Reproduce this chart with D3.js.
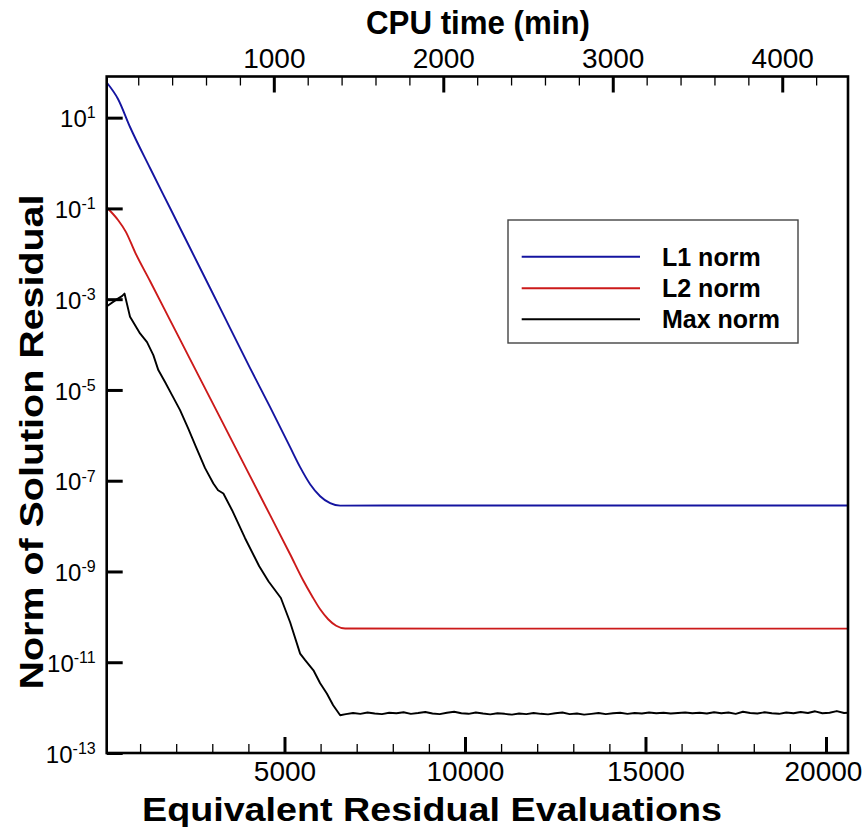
<!DOCTYPE html>
<html><head><meta charset="utf-8">
<script src="https://cdn.jsdelivr.net/npm/d3@7"></script>
<style>body{margin:0;background:#fff}</style>
</head><body><svg id="c" width="865" height="827"></svg>
<script>
const seriesNames = ["L1 norm", "L2 norm", "Max norm"];
const seriesColors = ["#1414a0", "#cc1a1a", "#000000"];

// [equivalent residual evaluations, norm]
const l1Norm = [
  [92, 57.2], [388, 25.8], [721, 6.22], [1275, 0.776], [1830, 0.102], [2384, 0.0134],
  [2939, 1.76e-3], [3493, 2.31e-4], [4047, 3.03e-5], [4602, 4.18e-6], [5156, 5.48e-7],
  [5433, 1.99e-7], [5710, 8.39e-8], [5988, 4.56e-8], [6265, 3.20e-8], [6542, 2.82e-8],
  [9000, 2.85e-8], [14000, 2.85e-8], [20610, 2.85e-8]
];
const l2Norm = [
  [92, 0.102], [388, 0.0555], [610, 0.0301], [859, 0.0109], [1275, 2.51e-3], [1830, 3.46e-4],
  [2384, 4.77e-5], [2939, 6.61e-6], [3493, 9.12e-7], [4047, 1.26e-7], [4602, 1.74e-8],
  [5156, 2.40e-9], [5516, 6.41e-10], [5766, 2.85e-10], [5988, 1.47e-10], [6210, 8.87e-11],
  [6432, 6.37e-11], [6682, 5.53e-11], [10000, 5.5e-11], [15000, 5.5e-11], [20610, 5.5e-11]
];
const maxNorm = [
  [92, 7.05e-4], [352, 9.9e-4], [499, 1.17e-3], [568, 1.33e-3], [721, 4.09e-4], [998, 1.76e-4],
  [1192, 1.13e-4], [1367, 5.86e-5], [1505, 2.74e-5], [1691, 1.49e-5], [1885, 7.69e-6], [2107, 3.59e-6],
  [2329, 1.44e-6], [2550, 5.48e-7], [2800, 1.89e-7], [3030, 8.69e-8], [3160, 6.18e-8], [3307, 5.24e-8],
  [3548, 2.24e-8], [3908, 5.41e-9], [4300, 1.3e-9], [4560, 6.0e-10], [4900, 2.6e-10], [5156, 7.6e-11],
  [5433, 1.55e-11], [5572, 1.11e-11], [5802, 6.65e-12], [5988, 3.44e-12], [6173, 2.04e-12], [6348, 1.13e-12],
  [6542, 6.78e-13],
  [6700, 7.2e-13], [6900, 7.6e-13], [7100, 7.3e-13], [7300, 7.8e-13], [7500, 7.4e-13], [7700, 7.2e-13],
  [7900, 7.7e-13], [8100, 7.5e-13], [8300, 7.9e-13], [8500, 7.3e-13], [8700, 7.6e-13], [8900, 8.0e-13],
  [9100, 7.4e-13], [9300, 7.2e-13], [9500, 7.7e-13], [9700, 8.1e-13], [9900, 7.5e-13], [10100, 7.3e-13],
  [10300, 7.8e-13], [10500, 7.4e-13], [10700, 7.1e-13], [10900, 7.5e-13], [11100, 7.3e-13], [11300, 7.0e-13],
  [11500, 7.4e-13], [11700, 7.2e-13], [11900, 7.6e-13], [12100, 7.3e-13], [12300, 7.1e-13], [12500, 7.5e-13],
  [12700, 7.8e-13], [12900, 7.2e-13], [13100, 7.4e-13], [13300, 7.0e-13], [13500, 7.3e-13], [13700, 7.6e-13],
  [13900, 7.2e-13], [14100, 7.5e-13], [14300, 7.7e-13], [14500, 7.3e-13], [14700, 7.6e-13], [14900, 7.4e-13],
  [15100, 7.8e-13], [15300, 7.5e-13], [15500, 7.7e-13], [15700, 7.4e-13], [15900, 7.6e-13], [16100, 7.8e-13],
  [16300, 7.5e-13], [16500, 7.7e-13], [16700, 7.4e-13], [16900, 7.9e-13], [17100, 7.5e-13], [17300, 7.8e-13],
  [17500, 7.3e-13], [17700, 8.1e-13], [17900, 7.6e-13], [18100, 7.4e-13], [18300, 7.9e-13], [18500, 7.5e-13],
  [18700, 7.3e-13], [18900, 7.8e-13], [19100, 7.5e-13], [19300, 8.0e-13], [19500, 7.6e-13], [19700, 8.3e-13],
  [19900, 7.5e-13], [20100, 7.7e-13], [20300, 8.4e-13], [20500, 7.6e-13], [20610, 7.7e-13]
];

const xMajorTicks = [5000, 10000, 15000, 20000];
const xMinorTicks = [1000, 2000, 3000, 4000, 6000, 7000, 8000, 9000, 11000, 12000, 13000, 14000, 16000, 17000, 18000, 19000];
const cpuMajorTicks = [1000, 2000, 3000, 4000];
const cpuMinorTicks = [200, 400, 600, 800, 1200, 1400, 1600, 1800, 2200, 2400, 2600, 2800, 3200, 3400, 3600, 3800, 4200];
const yTicks = [1e1, 1e-1, 1e-3, 1e-5, 1e-7, 1e-9, 1e-11, 1e-13];
const yTickExponents = ["1", "-1", "-3", "-5", "-7", "-9", "-11", "-13"];

const xTitle = "Equivalent Residual Evaluations";
const topTitle = "CPU time (min)";
const yTitle = "Norm of Solution Residual";

const L = 106.7, R = 848, T = 76.5, B = 753;
const FONT = "'Liberation Sans', Arial, Helvetica, sans-serif";

const svg = d3.select("#c");
const x = d3.scaleLinear().domain([75, 20610]).range([L, R]);
const xc = d3.scaleLinear().domain([14, 4388]).range([L, R]);
const y = d3.scaleLog().domain([1e-13, 80.7]).range([B, T]);

svg.append("defs").append("clipPath").attr("id", "clip")
  .append("rect").attr("x", L).attr("y", T).attr("width", R - L).attr("height", B - T);

const smooth = d3.line().curve(d3.curveMonotoneX).x(d => x(d[0])).y(d => y(d[1]));
const plain = d3.line().x(d => x(d[0])).y(d => y(d[1]));
const plot = svg.append("g").attr("clip-path", "url(#clip)");
[l1Norm, l2Norm, maxNorm].forEach((s, i) => {
  plot.append("path").datum(s).attr("d", i < 2 ? smooth : plain).attr("fill", "none")
    .attr("stroke", seriesColors[i]).attr("stroke-width", 1.9).attr("stroke-linejoin", "round");
});

function styleAxis(g, w, fs) {
  g.select(".domain").remove();
  g.selectAll(".tick line").attr("stroke", "#000").attr("stroke-width", w);
  g.selectAll("text").attr("font-family", FONT).attr("font-size", fs).attr("fill", "#000");
}

// bottom
svg.append("g").attr("transform", `translate(0,${B})`)
  .call(d3.axisBottom(x).tickValues(xMinorTicks).tickSizeInner(-9).tickSizeOuter(0).tickFormat(""))
  .call(g => styleAxis(g, 1.3, 28));
const gx = svg.append("g").attr("transform", `translate(0,${B})`)
  .call(d3.axisBottom(x).tickValues(xMajorTicks).tickSizeInner(-16).tickSizeOuter(0).tickPadding(8).tickFormat(d3.format("d")))
  .call(g => styleAxis(g, 3, 28));
gx.selectAll(".tick text").filter(d => d === 20000).attr("dx", -3);
// top
svg.append("g").attr("transform", `translate(0,${T})`)
  .call(d3.axisTop(xc).tickValues(cpuMinorTicks).tickSizeInner(-9).tickSizeOuter(0).tickFormat(""))
  .call(g => styleAxis(g, 1.3, 28));
svg.append("g").attr("transform", `translate(0,${T})`)
  .call(d3.axisTop(xc).tickValues(cpuMajorTicks).tickSizeInner(-16).tickSizeOuter(0).tickPadding(9).tickFormat(d3.format("d")))
  .call(g => styleAxis(g, 3, 28));
// left
const gy = svg.append("g").attr("transform", `translate(${L},0)`)
  .call(d3.axisLeft(y).tickValues(yTicks).tickSizeInner(-16).tickSizeOuter(0).tickPadding(11).tickFormat(() => ""))
  .call(g => styleAxis(g, 3, 24));
gy.selectAll(".tick text").each(function(d, i) {
  const t = d3.select(this).text(null).attr("dy", "0.38em");
  t.append("tspan").text("10");
  t.append("tspan").attr("dy", "-0.55em").attr("font-size", 16).text(yTickExponents[i]);
});

// frame
svg.append("rect").attr("x", L).attr("y", T).attr("width", R - L).attr("height", B - T)
  .attr("fill", "none").attr("stroke", "#000").attr("stroke-width", 2.6);

// titles
svg.append("text").attr("x", 478).attr("y", 34).attr("text-anchor", "middle")
  .attr("font-family", FONT).attr("font-weight", "bold").attr("font-size", 34)
  .attr("textLength", 224).attr("lengthAdjust", "spacingAndGlyphs").text(topTitle);
svg.append("text").attr("x", 432).attr("y", 821).attr("text-anchor", "middle")
  .attr("font-family", FONT).attr("font-weight", "bold").attr("font-size", 34)
  .attr("textLength", 580).attr("lengthAdjust", "spacingAndGlyphs").text(xTitle);
svg.append("text").attr("transform", "translate(43,442) rotate(-90)").attr("text-anchor", "middle")
  .attr("font-family", FONT).attr("font-weight", "bold").attr("font-size", 34)
  .attr("textLength", 495).attr("lengthAdjust", "spacingAndGlyphs").text(yTitle);

// legend
const lg = svg.append("g");
lg.append("rect").attr("x", 508).attr("y", 220).attr("width", 290).attr("height", 123)
  .attr("fill", "#fff").attr("stroke", "#444").attr("stroke-width", 1.4);
const legY = [256.7, 288.3, 319.3];
seriesNames.forEach((n, i) => {
  lg.append("line").attr("x1", 521.7).attr("x2", 640).attr("y1", legY[i]).attr("y2", legY[i])
    .attr("stroke", seriesColors[i]).attr("stroke-width", 2);
  lg.append("text").attr("x", 662).attr("y", legY[i]).attr("dy", "0.36em")
    .attr("font-family", FONT).attr("font-weight", "bold").attr("font-size", 25).text(n);
});
</script></body></html>
